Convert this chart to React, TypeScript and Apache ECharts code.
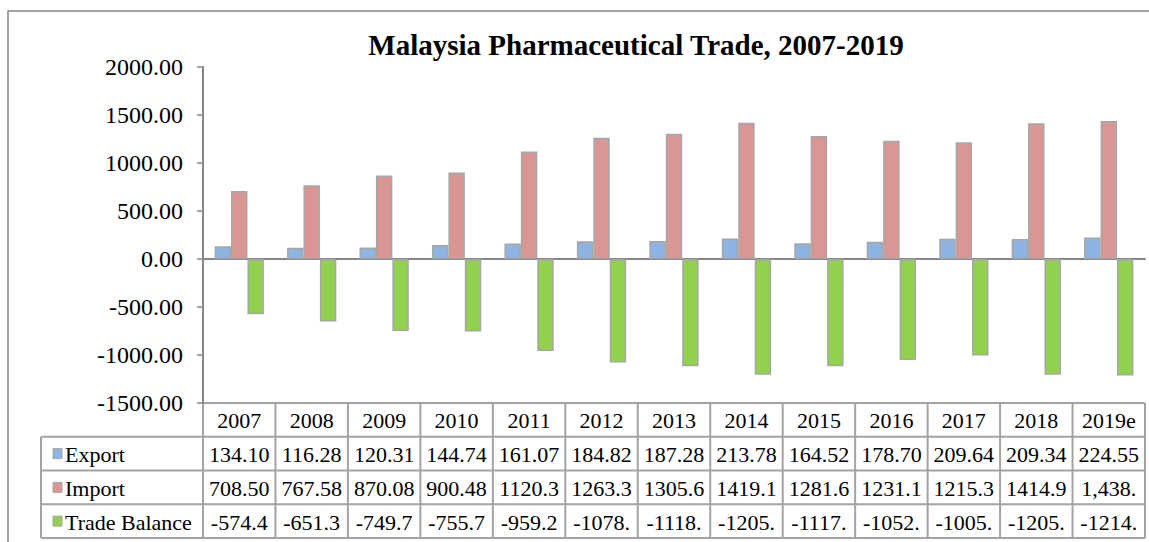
import React, { useEffect, useRef } from "react";
import * as echarts from "echarts";

const years = ["2007", "2008", "2009", "2010", "2011", "2012", "2013", "2014", "2015", "2016", "2017", "2018", "2019e"];
const exportValues = [134.1, 116.28, 120.31, 144.74, 161.07, 184.82, 187.28, 213.78, 164.52, 178.7, 209.64, 209.34, 224.55];
const importValues = [708.5, 767.58, 870.08, 900.48, 1120.3, 1263.3, 1305.6, 1419.1, 1281.6, 1231.1, 1215.3, 1414.9, 1438];
const balanceValues = [-574.4, -651.3, -749.7, -755.7, -959.2, -1078, -1118, -1205, -1117, -1052, -1005, -1205, -1214];

const exportLabels = ["134.10", "116.28", "120.31", "144.74", "161.07", "184.82", "187.28", "213.78", "164.52", "178.70", "209.64", "209.34", "224.55"];
const importLabels = ["708.50", "767.58", "870.08", "900.48", "1120.3", "1263.3", "1305.6", "1419.1", "1281.6", "1231.1", "1215.3", "1414.9", "1,438."];
const balanceLabels = ["-574.4", "-651.3", "-749.7", "-755.7", "-959.2", "-1078.", "-1118.", "-1205.", "-1117.", "-1052.", "-1005.", "-1205.", "-1214."];

const seriesNames = ["Export", "Import", "Trade Balance"];
const seriesColors = ["#8db4e2", "#d99694", "#92d050"];

const Y_MIN = -1500;
const Y_MAX = 2000;
const Y_INTERVAL = 500;

const W = 1149;
const H = 542;
const GRID_L = 203;
const GRID_R = 1145;
const GRID_T = 67;
const GRID_B = 403;
const TABLE_L = 41;
const ROW_H = 33.75;
const FONT = "Liberation Serif";
const LINE_COLOR = "#a3a3a3";
const AXIS_COLOR = "#878787";
const BAR_BORDER = "#a6a6a6";

export default function App() {
  const ref = useRef<HTMLDivElement>(null);

  useEffect(() => {
    document.body.style.margin = "0";
    const chart = echarts.init(ref.current!, null, { renderer: "svg" });
    const colW = (GRID_R - GRID_L) / years.length;
    const graphics: any[] = [];

    graphics.push({
      type: "rect",
      silent: true,
      z: -10,
      shape: { x: 8, y: 11, width: W + 20, height: H + 20 },
      style: { fill: "none", stroke: AXIS_COLOR, lineWidth: 1.5 },
    });

    graphics.push({
      type: "text",
      x: 636,
      y: 45,
      style: {
        text: "Malaysia Pharmaceutical Trade, 2007-2019",
        fontFamily: FONT,
        fontSize: 29,
        fontWeight: "bold",
        fill: "#000",
        align: "center",
        verticalAlign: "middle",
      },
    });

    const line = (x1: number, y1: number, x2: number, y2: number) => ({
      type: "line",
      silent: true,
      shape: { x1, y1, x2, y2 },
      style: { stroke: LINE_COLOR, lineWidth: 2 },
    });

    const tableBottom = GRID_B + ROW_H * 4;
    graphics.push(line(GRID_L, GRID_B, GRID_R, GRID_B));
    for (let r = 1; r <= 4; r++) {
      const y = GRID_B + ROW_H * r;
      graphics.push(line(TABLE_L, y, GRID_R, y));
    }
    for (let i = 0; i <= years.length; i++) {
      const x = GRID_L + colW * i;
      graphics.push(line(x, GRID_B, x, tableBottom));
    }
    graphics.push(line(TABLE_L, GRID_B + ROW_H, TABLE_L, tableBottom));

    const cellText = (text: string, x: number, y: number, align = "center") => ({
      type: "text",
      silent: true,
      x,
      y,
      style: {
        text,
        fontFamily: FONT,
        fontSize: 22,
        fill: "#000",
        align,
        verticalAlign: "middle",
      },
    });

    const rows = [years, exportLabels, importLabels, balanceLabels];
    rows.forEach((row, r) => {
      const cy = GRID_B + ROW_H * (r + 0.5) + 1;
      row.forEach((t, i) => {
        graphics.push(cellText(t, GRID_L + colW * (i + 0.5), cy));
      });
    });

    seriesNames.forEach((name, k) => {
      const cy = GRID_B + ROW_H * (k + 1.5);
      graphics.push({
        type: "rect",
        silent: true,
        shape: { x: 53, y: cy - 5, width: 9, height: 10 },
        style: { fill: seriesColors[k], stroke: BAR_BORDER, lineWidth: 1 },
      });
      graphics.push(cellText(name, 65, cy + 1, "left"));
    });

    const valueSets = [exportValues, importValues, balanceValues];

    chart.setOption({
      animation: false,
      textStyle: { fontFamily: FONT },
      grid: {
        left: GRID_L,
        right: W - GRID_R,
        top: GRID_T,
        bottom: H - GRID_B,
        containLabel: false,
      },
      xAxis: {
        type: "category",
        data: years,
        axisLine: { show: true, onZero: true, lineStyle: { color: AXIS_COLOR, width: 2 } },
        axisTick: { show: false },
        axisLabel: { show: false },
        splitLine: { show: false },
      },
      yAxis: {
        type: "value",
        min: Y_MIN,
        max: Y_MAX,
        interval: Y_INTERVAL,
        axisLine: { show: true, lineStyle: { color: AXIS_COLOR, width: 2 } },
        axisTick: { show: true, length: 6, lineStyle: { color: AXIS_COLOR, width: 1.5 } },
        splitLine: { show: false },
        axisLabel: {
          margin: 20,
          color: "#000",
          fontFamily: FONT,
          fontSize: 24,
          formatter: (v: number) => v.toFixed(2),
        },
      },
      series: valueSets.map((data, k) => ({
        name: seriesNames[k],
        type: "bar",
        data,
        barGap: "0%",
        barCategoryGap: "32%",
        itemStyle: { color: seriesColors[k], borderColor: BAR_BORDER, borderWidth: 1.5 },
      })),
      graphic: graphics,
    });

    return () => chart.dispose();
  }, []);

  return <div ref={ref} style={{ width: W, height: H }} />;
}
